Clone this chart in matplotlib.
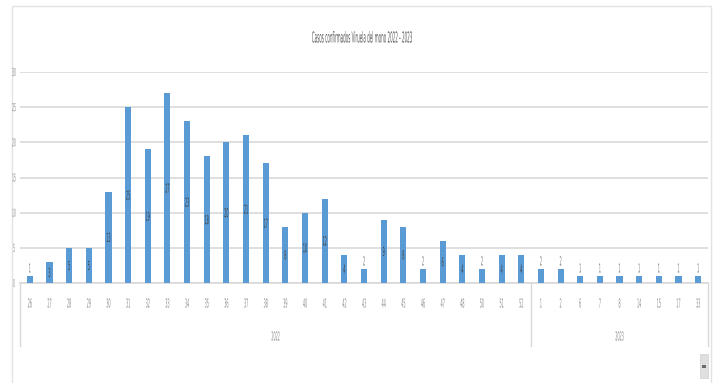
import matplotlib.pyplot as plt
from matplotlib.patches import Rectangle, PathPatch
from matplotlib.lines import Line2D
from matplotlib.textpath import TextPath
from matplotlib.font_manager import FontProperties
from matplotlib.transforms import Affine2D

#--------------------------------------------------
#datos: semanas epidemiologicas y casos

semanas_2022 = ["26", "27", "28", "29", "30", "31", "32", "33", "34", "35", "36", "37", "38",
                "39", "40", "41", "42", "43", "44", "45", "46", "47", "48", "50", "51", "52"]
casos_2022 = [1, 3, 5, 5, 13, 25, 19, 27, 23, 18, 20, 21, 17,
              8, 10, 12, 4, 2, 9, 8, 2, 6, 4, 2, 4, 4]
semanas_2023 = ["1", "2", "6", "7", "8", "14", "15", "17", "33"]
casos_2023 = [2, 2, 1, 1, 1, 1, 1, 1, 1]
anios = ["2022", "2023"]
titulo = "Casos confirmados Viruela del mono 2022 - 2023"

semanas = semanas_2022 + semanas_2023
casos = casos_2022 + casos_2023

#--------------------------------------------------
azul = "#5B9BD5"
gris_txt = "#8a8a8a"
gris_linea = "#d9d9d9"
prop = FontProperties(family="DejaVu Sans")

W, H = 719, 383
fig = plt.figure(figsize=(W / 100, H / 100), dpi=100)

def px(x, y):
    return x / W, 1 - y / H

#texto angosto (la imagen esta comprimida en horizontal)
#x, y en pixeles desde arriba a la izquierda; alto = altura de los digitos en px
def texto(x, y, s, alto, color, sx=0.27, ancho=None):
    tp = TextPath((0, 0), s, size=10, prop=prop)
    bb = tp.get_extents()
    ky = alto / 7.29
    kx = ancho / bb.width if ancho else ky * sx
    tx = x - (bb.x0 + bb.width / 2) * kx
    ty = (H - y) - 3.645 * ky
    p = PathPatch(tp, transform=Affine2D().scale(kx, ky).translate(tx, ty),
                  facecolor=color, edgecolor="none", lw=0)
    fig.add_artist(p)

#marco del grafico
fig.add_artist(Rectangle(px(12, 390), (711 - 12) / W, (390 - 6) / H, transform=fig.transFigure,
                         fill=False, edgecolor="#e3e3e3", lw=1))

x0, y0 = px(20, 283)
x1, y1 = px(708, 72)
ax = fig.add_axes([x0, y0, x1 - x0, y1 - y0])

pos = list(range(len(casos)))
ax.bar(pos, casos, width=0.31, color=azul, zorder=3)

ax.set_xlim(-0.5, len(casos) - 0.5)
ax.set_ylim(0, 30)
ax.set_yticks(range(0, 31, 5))
ax.yaxis.grid(True, color=gris_linea, lw=1.2, zorder=0)
ax.tick_params(axis="y", length=0, labelleft=False)
ax.set_xticks([])
for s in ["top", "right", "left"]:
    ax.spines[s].set_visible(False)
ax.spines["bottom"].set_color(gris_linea)
ax.spines["bottom"].set_linewidth(1.2)

def a_px(x, y):
    dx, dy = ax.transData.transform((x, y))
    return dx, H - dy

#etiquetas del eje y
for v in range(0, 31, 5):
    _, yy = a_px(0, v)
    texto(14, yy, str(v), 8, gris_txt)

#etiquetas de datos
for x, v in zip(pos, casos):
    xx, ytop = a_px(x, v)
    _, ybase = a_px(x, 0)
    if v <= 2:
        texto(xx, ytop - 8, str(v), 9, "#6e6e6e")
    else:
        texto(xx, (ytop + ybase) / 2, str(v), 9, "#3f3f3f")

#eje de categorias en dos niveles (semana / año)
for x, s in zip(pos, semanas):
    xx, _ = a_px(x, 0)
    texto(xx, 303, s, 9, gris_txt)

n22 = len(casos_2022)
limites = [-0.5, n22 - 0.5, len(casos) - 0.5]
trans = ax.get_xaxis_transform()
for b in limites:
    ax.add_line(Line2D([b, b], [0, -0.3], transform=trans, color=gris_linea, lw=1, clip_on=False))
centros = [(limites[0] + limites[1]) / 2, (limites[1] + limites[2]) / 2]
for c, a in zip(centros, anios):
    xx, _ = a_px(c, 0)
    texto(xx, 336, a, 9, gris_txt)

texto(362, 37, titulo, 11, "#595959", ancho=100)

#control de desplazamiento abajo a la derecha
fig.add_artist(Rectangle(px(700, 378), 8 / W, 24 / H, transform=fig.transFigure,
                         facecolor="#e0e0e0", edgecolor="#cfcfcf", lw=0.5))
fig.add_artist(Rectangle(px(702, 368), 4 / W, 3 / H, transform=fig.transFigure,
                         facecolor="#6a6a6a", edgecolor="none"))

fig.savefig("out.png", dpi=100)
